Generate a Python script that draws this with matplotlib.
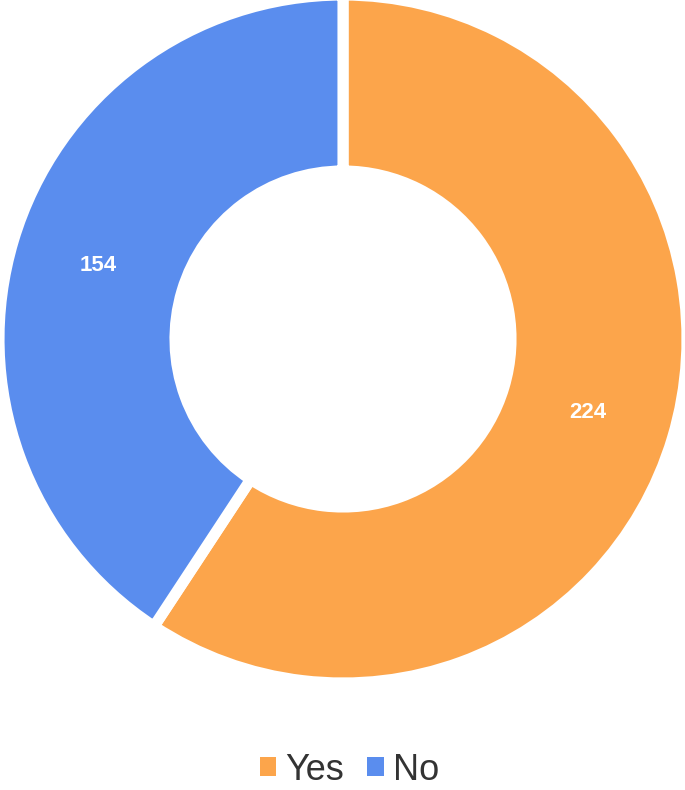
import matplotlib
matplotlib.use("Agg")
import matplotlib.pyplot as plt
from matplotlib.patches import Patch

categories = ["Yes", "No"]
values = [224, 154]
colors = ["#FCA54B", "#5A8DEE"]

plt.rcParams['font.family'] = ['Liberation Sans', 'DejaVu Sans']

W, H = 685, 790
fig = plt.figure(figsize=(W / 100, H / 100), dpi=100)
ax = fig.add_axes([0, 0, 1, 1])
ax.set_xlim(0, W)
ax.set_ylim(0, H)
ax.set_aspect('equal')
ax.axis('off')

R = 344
width = 176
wedges, texts = ax.pie(
    values, colors=colors, startangle=90, counterclock=False,
    radius=R, center=(343, H - 339),
    wedgeprops=dict(width=width, edgecolor='white', linewidth=8),
    labels=[str(v) for v in values], labeldistance=(R - width / 2) / R,
    textprops=dict(color='white', fontsize=16, fontweight='bold'),
)
for t in texts:
    t.set_ha('center')
    t.set_va('center')
ax.set_xlim(0, W)
ax.set_ylim(0, H)

handles = [Patch(facecolor=c, edgecolor='none') for c in colors]
fig.legend(handles, categories, loc='center', bbox_to_anchor=(0.51, 1 - 770 / H),
           ncol=2, frameon=False, fontsize=26, handlelength=0.45, handleheight=0.45,
           handletextpad=0.25, columnspacing=0.65, labelcolor='#333333')

fig.savefig("out.png", dpi=100)
